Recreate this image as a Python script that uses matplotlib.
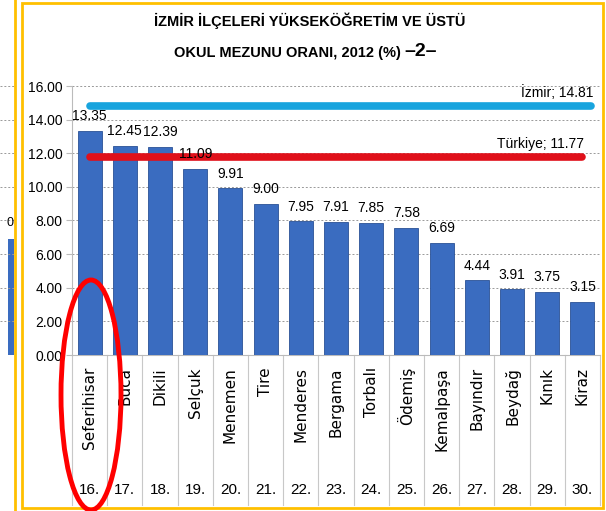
import matplotlib.pyplot as plt
from matplotlib.patches import Ellipse, Rectangle
import matplotlib.transforms as mtransforms

plt.rcParams['font.family'] = ['Liberation Sans', 'DejaVu Sans']

# ----------------------------
# Data
# ----------------------------
districts = ["Seferihisar", "Buca", "Dikili", "Selçuk", "Menemen", "Tire", "Menderes",
             "Bergama", "Torbalı", "Ödemiş", "Kemalpaşa", "Bayındır", "Beydağ", "Kınık", "Kiraz"]
ranks = ["16.", "17.", "18.", "19.", "20.", "21.", "22.", "23.", "24.", "25.",
         "26.", "27.", "28.", "29.", "30."]
rates = [13.35, 12.45, 12.39, 11.09, 9.91, 9.00, 7.95, 7.91, 7.85, 7.58,
         6.69, 4.44, 3.91, 3.75, 3.15]
izmir_rate = 14.81
turkiye_rate = 11.77

W, H = 606, 511
fig = plt.figure(figsize=(W / 100, H / 100), dpi=100)

def fx(px):
    return px / W

def fy(py):
    return 1 - py / H

# slide frames (orange)
orange = "#FFC000"
fig.patches.append(Rectangle((fx(22), fy(508)), fx(581), 505 / H, transform=fig.transFigure,
                             fill=False, ec=orange, lw=2))
fig.add_artist(plt.Line2D([fx(15), fx(15)], [0, 1], color=orange, lw=2))

# left neighbouring chart (cut off)
axl = fig.add_axes([0, fy(355), fx(14), (355 - 86) / H])
axl.bar([0], [6.9], width=1.0, color="#3A6CC0", align="edge")
axl.set_xlim(-0.6, 0.5)
axl.set_ylim(0, 16)
for v in range(2, 17, 2):
    axl.axhline(v, color="#999999", lw=0.7, ls=(0, (2, 2)))
axl.text(0.45, 7.5, "0", fontsize=9, ha="right", va="bottom")
axl.axis("off")

# ----------------------------
# Main chart
# ----------------------------
ax = fig.add_axes([fx(72), fy(355), fx(528), (355 - 86) / H])
x = range(len(districts))
ax.bar(x, rates, width=0.68, color="#3A6CC0", edgecolor="#2A5196", lw=0.6, zorder=3)
for i, v in enumerate(rates):
    ax.text(i, v + 0.45, f"{v:.2f}", ha="center", va="bottom", fontsize=10, zorder=5)

ax.plot([0, 14.25], [izmir_rate, izmir_rate], color="#18A4DE", lw=5.5,
        solid_capstyle="round", zorder=4)
ax.plot([0, 14], [turkiye_rate, turkiye_rate], color="#E0101A", lw=5.5,
        solid_capstyle="round", zorder=4)
ax.text(14.3, izmir_rate + 0.35, "İzmir; 14.81", ha="right", va="bottom", fontsize=10)
ax.text(14.05, turkiye_rate + 0.35, "Türkiye; 11.77", ha="right", va="bottom", fontsize=10)

ax.set_xlim(-0.5, 14.5)
ax.set_ylim(0, 16)
ax.set_yticks(range(0, 17, 2))
ax.set_yticklabels([f"{v:.2f}" for v in range(0, 17, 2)], fontsize=10)
ax.set_xticks([])
ax.grid(axis="y", color="#999999", lw=0.7, ls=(0, (2, 2)), zorder=0)
for s in ["top", "right"]:
    ax.spines[s].set_visible(False)
ax.spines["left"].set_color("#BBBBBB")
ax.spines["bottom"].set_color("#BBBBBB")
ax.tick_params(axis="y", length=4, color="#BBBBBB", pad=3)

# category table under the axis
trans = mtransforms.blended_transform_factory(ax.transData, ax.transAxes)
ybot = (355 - 505) / (355 - 86)
for i in range(len(districts) + 1):
    ax.plot([i - 0.5, i - 0.5], [0, ybot], transform=trans, color="#C8C8C8", lw=0.8, clip_on=False)
for i, (name, r) in enumerate(zip(districts, ranks)):
    ax.text(i, (355 - 367) / 269, name, transform=trans, rotation=90, ha="center", va="top",
            fontsize=11, family=["DejaVu Sans"])
    ax.text(i, (355 - 490) / 269, r, transform=trans, ha="center", va="center", fontsize=11)

# title
fig.text(fx(310), fy(21), "İZMİR İLÇELERİ YÜKSEKÖĞRETİM VE ÜSTÜ", ha="center", va="center",
         fontsize=10.5, fontweight="bold")
fig.text(fx(401), fy(53), "OKUL MEZUNU ORANI, 2012 (%)", ha="right", va="center",
         fontsize=10.5, fontweight="bold")
fig.text(fx(404), fy(52), "–2–", ha="left", va="center", fontsize=14, fontweight="bold")

# red ellipse highlight
fig.patches.append(Ellipse((fx(91), fy(395)), fx(60), 230 / H, transform=fig.transFigure,
                           fill=False, ec="#FF0000", lw=3.5, zorder=10))

fig.savefig("out.png", dpi=100)
